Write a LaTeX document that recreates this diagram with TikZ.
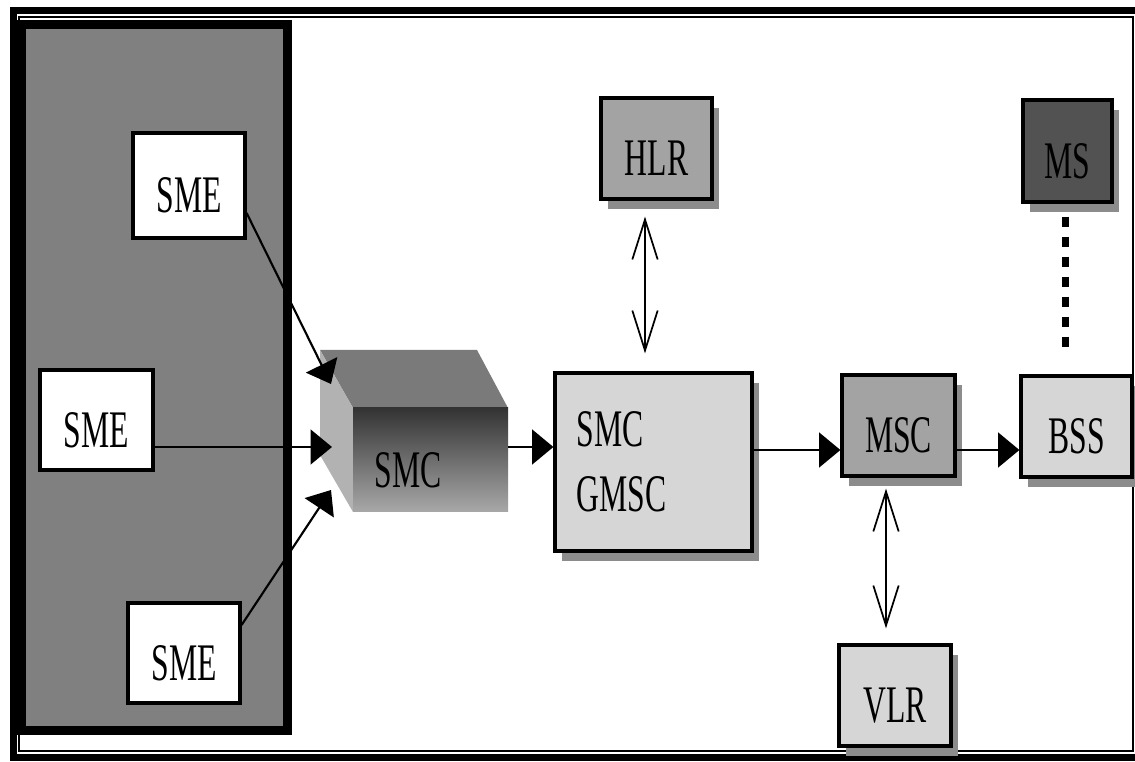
\documentclass[tikz,border=0pt]{standalone}
\usepackage{fontspec}
\newfontfamily\df[FakeStretch=0.6]{Liberation Serif}
\usetikzlibrary{arrows.meta,shadows,calc}
\colorlet{panelgrey}{black!50}
\colorlet{shadegrey}{black!45}
\colorlet{lightfill}{black!16}
\colorlet{midfill}{black!36}
\colorlet{darkfill}{black!68}
\colorlet{cubetop}{black!52}
\colorlet{cubeleft}{black!30}
\begin{document}
\begin{tikzpicture}[x=0.75pt,y=-0.75pt,
  lab/.style={font=\df\fontsize{39.6}{48.75}\selectfont},
  captext/.style={text height=41pt,text depth=0pt},
  box/.style={draw=black, line width=2.4pt, inner sep=0pt, lab,
    drop shadow={shadow xshift=5.5pt, shadow yshift=-7.5pt, fill=shadegrey, opacity=1}},
  plainbox/.style={draw=black, line width=2.4pt, fill=white, inner sep=0pt, lab, captext},
  conn/.style={line width=1.6pt, -{Triangle[length=16pt,width=26pt]}},
  conntwo/.style={line width=2.2pt, -{Triangle[length=16pt,width=26pt]}},
  dbl/.style={line width=1.3pt, {Straight Barb[length=30pt,width=19pt]}-{Straight Barb[length=30pt,width=19pt]}},
  dotline/.style={line width=5.25pt, dash pattern=on 7.5pt off 7.5pt},
]
\fill[white] (0,0) rectangle (1135,762);
\useasboundingbox (0,0) rectangle (1135,762);
% outer frame
\draw[line width=5.25pt] (13,11) rectangle (1150,757);
\draw[line width=0.8pt] (19,17) rectangle (1133,751);
% panel
\draw[line width=6.75pt, fill=panelgrey] (21.5,24.5) rectangle (287.5,730.5);
% SME boxes
\node[plainbox, minimum width=84pt, minimum height=78.75pt] (sme1) at (189,185.5) {SME};
\node[plainbox, minimum width=84.75pt, minimum height=75pt] (sme2) at (96.5,420) {SME};
\node[plainbox, minimum width=84pt, minimum height=75pt] (sme3) at (184,653) {SME};
% cube
\fill[cubetop] (320,350) -- (477,350) -- (508,408) -- (353,408) -- cycle;
\fill[cubeleft] (320,350) -- (353,408) -- (353,512) -- (320,455) -- cycle;
\node[minimum width=116.25pt, minimum height=78pt, inner sep=0pt,
  top color=black!80, middle color=black!44, bottom color=black!34] (smc) at (430.5,460) {};
\node[lab] (smclab) at (408,470) {SMC};
\coordinate (t1) at (331,384);
\coordinate (t2) at (332,447);
\coordinate (t3) at (331,490);
% other boxes
\node[box, fill=midfill, captext, minimum width=83.25pt, minimum height=75.75pt] (hlr) at (656.5,148.5) {HLR};
\node[box, fill=lightfill, align=left, text width=115pt, minimum width=147.75pt, minimum height=133.5pt] (gmsc) at (653.5,462) {SMC\\GMSC};
\node[box, fill=midfill, captext, minimum width=84.75pt, minimum height=75.75pt] (msc) at (898.5,425.5) {MSC};
\node[box, fill=lightfill, captext, minimum width=83.25pt, minimum height=75.75pt] (bss) at (1076.5,426.5) {BSS};
\node[box, fill=darkfill, captext, minimum width=66.75pt, minimum height=76.5pt] (ms) at (1067.5,151) {MS};
\node[box, fill=lightfill, captext, minimum width=84pt, minimum height=75.75pt] (vlr) at (895,695.5) {VLR};
% levels
\coordinate (lvl) at (0,450);
\coordinate (lvltwo) at (0,447);
\coordinate (xh) at (645,0);
\coordinate (xv) at (886,0);
\coordinate (xd) at (1065,0);
% connectors
\draw[conn] ([yshift=-20.6pt]sme1.east) -- (t1);
\draw[conn] (sme2.east |- lvltwo) -- (t2);
\draw[conn] ([yshift=21pt]sme3.east) -- (t3);
\draw[conntwo] (smc.east |- lvltwo) -- (gmsc.west |- lvltwo);
\draw[conntwo] (gmsc.east |- lvl) -- (msc.west |- lvl);
\draw[conntwo] (msc.east |- lvl) -- (bss.west |- lvl);
\draw[dbl, shorten <=12pt, shorten >=13.5pt] (hlr.south -| xh) -- (gmsc.north -| xh);
\draw[dbl, shorten <=8.25pt, shorten >=11.25pt] (msc.south -| xv) -- (vlr.north -| xv);
\draw[dotline, shorten <=9.75pt, shorten >=17.25pt] (ms.south -| xd) -- (bss.north -| xd);
\end{tikzpicture}
\end{document}
